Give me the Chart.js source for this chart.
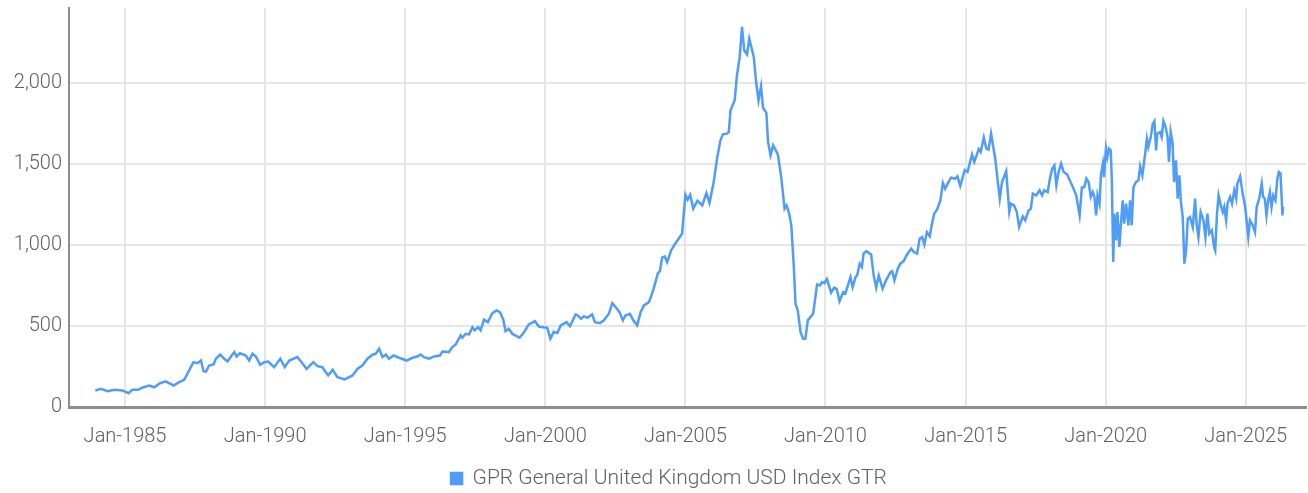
<!DOCTYPE html>
<html>
<head>
<meta charset="utf-8">
<script src="https://cdn.jsdelivr.net/npm/chart.js@4.4.1/dist/chart.umd.min.js"></script>
<style>
  html, body { margin: 0; padding: 0; background: #fff; }
  #wrap { width: 1308px; height: 493px; }
</style>
</head>
<body>
<div id="wrap"><canvas id="chart"></canvas></div>
<script>
// series label
const seriesName = "GPR General United Kingdom USD Index GTR";

// x positions as decimal years (Jan-1985 = 1985.0)
const years = [
  1983.94, 1984.14, 1984.38, 1984.62, 1984.91, 1985.12, 1985.26, 1985.47, 1985.61, 1985.86,
  1986.04, 1986.25, 1986.45, 1986.57, 1986.73, 1986.93, 1987.11, 1987.29, 1987.44, 1987.59,
  1987.71, 1987.80, 1987.89, 1988.00, 1988.16, 1988.24, 1988.40, 1988.54, 1988.66, 1988.78,
  1988.90, 1988.98, 1989.10, 1989.31, 1989.43, 1989.55, 1989.67, 1989.82, 1989.97, 1990.11,
  1990.32, 1990.54, 1990.70, 1990.86, 1991.15, 1991.27, 1991.48, 1991.72, 1991.87, 1992.04,
  1992.25, 1992.41, 1992.58, 1992.84, 1993.12, 1993.30, 1993.47, 1993.65, 1993.83, 1993.95,
  1994.07, 1994.19, 1994.31, 1994.42, 1994.58, 1994.78, 1995.05, 1995.26, 1995.43, 1995.55,
  1995.67, 1995.85, 1996.03, 1996.24, 1996.33, 1996.56, 1996.68, 1996.80, 1996.98, 1997.04,
  1997.16, 1997.28, 1997.40, 1997.48, 1997.60, 1997.69, 1997.81, 1997.95, 1998.11, 1998.26,
  1998.38, 1998.50, 1998.58, 1998.70, 1998.82, 1999.08, 1999.24, 1999.41, 1999.63, 1999.77,
  1999.92, 2000.07, 2000.18, 2000.30, 2000.43, 2000.55, 2000.76, 2000.88, 2001.08, 2001.16,
  2001.28, 2001.38, 2001.50, 2001.67, 2001.77, 2001.95, 2002.09, 2002.27, 2002.39, 2002.51,
  2002.65, 2002.77, 2002.86, 2003.02, 2003.14, 2003.28, 2003.40, 2003.52, 2003.70, 2003.85,
  2004.02, 2004.09, 2004.17, 2004.26, 2004.35, 2004.49, 2004.61, 2004.76, 2004.88, 2005.00,
  2005.08, 2005.17, 2005.28, 2005.43, 2005.60, 2005.75, 2005.86, 2006.01, 2006.13, 2006.25,
  2006.34, 2006.48, 2006.55, 2006.61, 2006.76, 2006.84, 2006.94, 2007.02, 2007.10, 2007.20,
  2007.28, 2007.44, 2007.53, 2007.61, 2007.70, 2007.77, 2007.89, 2007.95, 2008.04, 2008.13,
  2008.30, 2008.42, 2008.54, 2008.61, 2008.69, 2008.78, 2008.87, 2008.93, 2009.01, 2009.11,
  2009.20, 2009.28, 2009.37, 2009.46, 2009.56, 2009.70, 2009.80, 2009.88, 2009.96, 2010.05,
  2010.20, 2010.31, 2010.40, 2010.50, 2010.63, 2010.71, 2010.89, 2010.97, 2011.07, 2011.13,
  2011.22, 2011.30, 2011.36, 2011.46, 2011.58, 2011.63, 2011.72, 2011.81, 2011.90, 2012.04,
  2012.16, 2012.32, 2012.38, 2012.46, 2012.58, 2012.67, 2012.79, 2012.89, 2013.06, 2013.15,
  2013.27, 2013.36, 2013.45, 2013.53, 2013.62, 2013.72, 2013.80, 2013.88, 2013.98, 2014.10,
  2014.19, 2014.27, 2014.39, 2014.48, 2014.63, 2014.71, 2014.81, 2014.97, 2015.07, 2015.23,
  2015.31, 2015.47, 2015.54, 2015.65, 2015.74, 2015.82, 2015.91, 2016.06, 2016.22, 2016.30,
  2016.45, 2016.56, 2016.62, 2016.73, 2016.83, 2016.91, 2017.04, 2017.13, 2017.25, 2017.33,
  2017.40, 2017.52, 2017.64, 2017.73, 2017.81, 2017.93, 2018.00, 2018.09, 2018.17, 2018.24,
  2018.32, 2018.41, 2018.50, 2018.62, 2018.80, 2018.95, 2019.07, 2019.15, 2019.24, 2019.31,
  2019.39, 2019.47, 2019.54, 2019.60, 2019.66, 2019.71, 2019.78, 2019.83, 2019.90, 2019.94,
  2020.01, 2020.06, 2020.12, 2020.18, 2020.22, 2020.27, 2020.31, 2020.37, 2020.42, 2020.49,
  2020.54, 2020.61, 2020.66, 2020.73, 2020.81, 2020.87, 2020.93, 2020.99, 2021.08, 2021.17,
  2021.23, 2021.31, 2021.41, 2021.47, 2021.52, 2021.61, 2021.68, 2021.74, 2021.80, 2021.84,
  2021.94, 2022.00, 2022.06, 2022.14, 2022.21, 2022.26, 2022.32, 2022.39, 2022.44, 2022.51,
  2022.57, 2022.63, 2022.68, 2022.75, 2022.81, 2022.87, 2022.93, 2023.01, 2023.11, 2023.19,
  2023.25, 2023.31, 2023.39, 2023.49, 2023.56, 2023.63, 2023.70, 2023.79, 2023.87, 2023.91,
  2023.97, 2024.03, 2024.11, 2024.18, 2024.23, 2024.30, 2024.35, 2024.44, 2024.51, 2024.59,
  2024.66, 2024.70, 2024.80, 2024.89, 2024.98, 2025.09, 2025.15, 2025.25, 2025.33, 2025.39,
  2025.48, 2025.57, 2025.62, 2025.68, 2025.74, 2025.80, 2025.86, 2025.92, 2025.98, 2026.06,
  2026.12, 2026.18, 2026.24, 2026.31, 2026.33
];

// index level
const values = [
  102, 112, 98, 106, 102, 85, 106, 106, 119, 133,
  122, 147, 158, 147, 133, 153, 168, 226, 277, 271,
  287, 221, 219, 256, 263, 298, 324, 298, 281, 312,
  339, 312, 332, 318, 287, 329, 312, 261, 277, 281,
  246, 298, 246, 287, 308, 283, 236, 277, 252, 246,
  195, 230, 184, 170, 195, 236, 256, 298, 323, 329,
  360, 308, 324, 298, 318, 304, 287, 304, 312, 324,
  308, 298, 312, 318, 343, 339, 370, 386, 442, 428,
  452, 448, 493, 473, 493, 473, 539, 524, 580, 596,
  586, 539, 468, 483, 452, 428, 462, 510, 530, 497,
  493, 489, 421, 464, 457, 504, 524, 499, 572, 565,
  545, 561, 551, 572, 524, 518, 535, 576, 641, 617,
  586, 535, 565, 576, 535, 504, 586, 627, 648, 720,
  827, 839, 922, 930, 895, 967, 1002, 1039, 1070, 1310,
  1280, 1310, 1225, 1274, 1245, 1321, 1260, 1389, 1534, 1647,
  1684, 1688, 1698, 1832, 1894, 2049, 2162, 2347, 2203, 2178,
  2275, 2162, 1997, 1894, 1981, 1849, 1816, 1636, 1554, 1616,
  1560, 1420, 1225, 1245, 1204, 1122, 864, 638, 596, 462,
  421, 421, 535, 555, 576, 757, 751, 771, 765, 790,
  706, 737, 730, 653, 709, 700, 802, 740, 802, 813,
  885, 864, 947, 963, 947, 942, 813, 737, 813, 730,
  782, 833, 839, 782, 854, 885, 901, 936, 978, 957,
  947, 1039, 1050, 1004, 1080, 1054, 1132, 1194, 1219, 1276,
  1383, 1348, 1389, 1416, 1410, 1424, 1365, 1463, 1451, 1560,
  1513, 1593, 1575, 1664, 1596, 1589, 1688, 1530, 1287, 1389,
  1457, 1204, 1256, 1245, 1204, 1111, 1177, 1153, 1214, 1225,
  1318, 1307, 1338, 1307, 1338, 1327, 1400, 1472, 1492, 1369,
  1451, 1503, 1451, 1437, 1369, 1307, 1183, 1355, 1358, 1410,
  1389, 1297, 1327, 1297, 1183, 1307, 1256, 1431, 1503, 1420,
  1596, 1544, 1596, 1585, 1400, 895, 1194, 1029, 1204, 988,
  1122, 1276, 1132, 1256, 1122, 1276, 1122, 1355, 1389, 1400,
  1486, 1431, 1565, 1657, 1606, 1667, 1750, 1766, 1585, 1688,
  1698, 1667, 1766, 1729, 1667, 1513, 1698, 1626, 1389, 1523,
  1287, 1431, 1276, 1173, 885, 967, 1163, 1173, 1111, 1287,
  1122, 1050, 1204, 1153, 1050, 1194, 1070, 1091, 988, 967,
  1183, 1307, 1245, 1204, 1235, 1153, 1256, 1297, 1256, 1338,
  1287, 1380, 1424, 1318, 1235, 1050, 1153, 1122, 1080, 1235,
  1287, 1380, 1297, 1287, 1183, 1276, 1327, 1235, 1307, 1276,
  1400, 1451, 1441, 1183, 1235
];

// axis ticks
const yTicks = [0, 500, 1000, 1500, 2000];
const xTickYears = [1985, 1990, 1995, 2000, 2005, 2010, 2015, 2020, 2025];

const lineColor = "#4f9cf9";
const textColor = "#606060";
const gridColor = "#e6e6e6";
const axisColor = "#8c8c8c";
const fontFamily = "Roboto, 'Noto Sans', sans-serif";

const points = years.map((x, i) => ({ x: x, y: values[i] }));

// nudge the legend row a bit to the right, like the original
const shiftLegend = {
  id: "shiftLegend",
  afterLayout(chart) {
    if (chart.legend) {
      chart.legend.left += 16;
      chart.legend.right += 16;
    }
  },
};

new Chart(document.getElementById("chart"), {
  type: "line",
  data: {
    datasets: [
      {
        label: seriesName,
        data: points,
        borderColor: lineColor,
        backgroundColor: lineColor,
        borderWidth: 2.5,
        pointRadius: 0,
        tension: 0,
        fill: false,
      },
    ],
  },
  plugins: [shiftLegend],
  options: {
    responsive: true,
    maintainAspectRatio: false,
    animation: false,
    // negative bottom padding pulls the legend row down to the canvas edge
    layout: { padding: { top: 8, right: 2, left: 0, bottom: -6 } },
    plugins: {
      tooltip: { enabled: false },
      legend: {
        position: "bottom",
        labels: {
          color: textColor,
          boxWidth: 11,
          boxHeight: 11,
          padding: 1,
          font: { family: fontFamily, size: 21, weight: "300" },
        },
      },
    },
    scales: {
      x: {
        type: "linear",
        min: 1983.0,
        max: 2027.15,
        afterBuildTicks: (scale) => {
          scale.ticks = xTickYears.map((v) => ({ value: v }));
        },
        afterFit: (scale) => {
          scale.height = 60;
        },
        ticks: {
          color: textColor,
          padding: 18,
          maxRotation: 0,
          autoSkip: false,
          font: { family: fontFamily, size: 20, weight: "300" },
          callback: (v) => "Jan-" + v,
        },
        grid: { color: gridColor, lineWidth: 2, drawTicks: false },
        border: { color: axisColor, width: 3 },
      },
      y: {
        min: 0,
        max: 2464,
        afterBuildTicks: (scale) => {
          scale.ticks = yTicks.map((v) => ({ value: v }));
        },
        afterFit: (scale) => {
          scale.width = 69;
          scale.paddingTop = 0;
          scale.paddingBottom = 0;
        },
        ticks: {
          color: textColor,
          padding: 7,
          font: { family: fontFamily, size: 20, weight: "300" },
          callback: (v) => v.toLocaleString("en-US"),
        },
        grid: { color: gridColor, lineWidth: 2, drawTicks: false },
        border: { color: axisColor, width: 2 },
      },
    },
  },
});
</script>
</body>
</html>
